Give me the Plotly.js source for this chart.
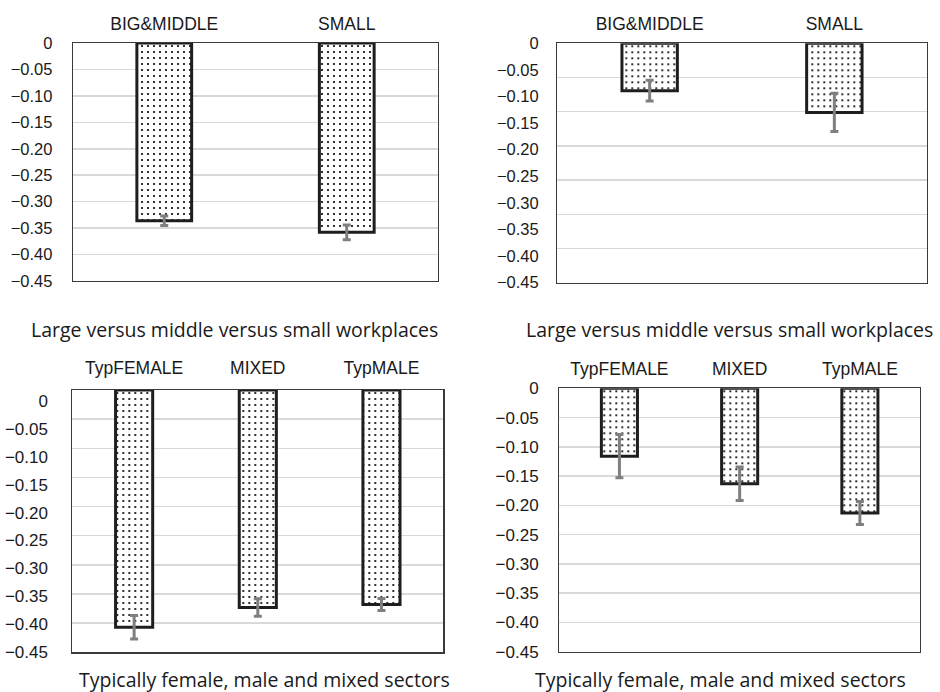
<!DOCTYPE html>
<html>
<head>
<meta charset="utf-8">
<script src="https://cdn.plot.ly/plotly-3.0.1.min.js"></script>
<style>html,body{margin:0;padding:0;background:#fff;}#chart{width:940px;height:692px;}</style>
</head>
<body>
<div id="chart"></div>
<script>
// ---- data ----
const sizeCategories = ['BIG&MIDDLE', 'SMALL'];
const sectorCategories = ['TypFEMALE', 'MIXED', 'TypMALE'];

const sizeValuesA = [-0.336, -0.358];
const sizeErrorsA = [0.009, 0.014];
const sizeValuesB = [-0.089, -0.130];
const sizeErrorsB = [0.0195, 0.036];

const sectorValuesA = [-0.407, -0.373, -0.368];
const sectorErrorsA = [0.020, 0.015, 0.0105];
const sectorValuesB = [-0.116, -0.163, -0.213];
const sectorErrorsB = [0.037, 0.0285, 0.0195];

const tickValues = [0, -0.05, -0.10, -0.15, -0.20, -0.25, -0.30, -0.35, -0.40, -0.45];
const tickLabels = ['0', '\u22120.05', '\u22120.10', '\u22120.15', '\u22120.20', '\u22120.25', '\u22120.30', '\u22120.35', '\u22120.40', '\u22120.45'];
const gridValuesShort = [0, -0.05, -0.10, -0.15, -0.20, -0.25, -0.30, -0.35];

const titleTop = 'Large versus middle versus small workplaces';
const titleBottom = 'Typically female, male and mixed sectors';

// ---- styling ----
const W = 940, H = 692;
const frameColor = '#3a3a3a';
const gridColor = '#d9d9d9';
const tickFont = {family: 'Liberation Sans, Arial, sans-serif', size: 16.5, color: '#1a1a1a'};
const catFont = {family: 'Liberation Sans, Arial, sans-serif', size: 17.5, color: '#1a1a1a'};
const titleFont = {family: 'Open Sans, Noto Sans, sans-serif', size: 19.5, color: '#1a1a1a'};

function px(a, b) { return [a / W, b / W]; }
function py(top, bottom) { return [(H - bottom) / H, (H - top) / H]; }

function barTrace(cats, vals, errs, xa, ya) {
  return {
    type: 'bar', x: cats, y: vals, xaxis: xa, yaxis: ya,
    marker: {
      color: '#ffffff',
      line: {color: '#1e1e1e', width: 3},
      pattern: {shape: '.', fgcolor: '#000000', bgcolor: '#ffffff', size: 6, solidity: 0.1}
    },
    error_y: {type: 'data', array: errs, visible: true, color: '#7f7f7f', thickness: 3, width: 4},
    hoverinfo: 'skip', showlegend: false
  };
}
// invisible helper so that an overlaid axis gets drawn
function helperTrace(cats, vals, xa, ya) {
  return {type: 'scatter', mode: 'markers', x: cats, y: vals, xaxis: xa, yaxis: ya,
    marker: {opacity: 0, size: 1}, hoverinfo: 'skip', showlegend: false};
}

const data = [
  barTrace(sizeCategories, sizeValuesA, sizeErrorsA, 'x', 'y'),
  barTrace(sizeCategories, sizeValuesB, sizeErrorsB, 'x2', 'y2'),
  helperTrace(sizeCategories, sizeValuesB, 'x2', 'y5'),
  barTrace(sectorCategories, sectorValuesA, sectorErrorsA, 'x3', 'y3'),
  helperTrace(sectorCategories, sectorValuesA, 'x3', 'y6'),
  barTrace(sectorCategories, sectorValuesB, sectorErrorsB, 'x4', 'y4')
];

function xAxis(domain, anchor, standoff) {
  return {
    domain: domain, anchor: anchor, side: 'top', type: 'category',
    showgrid: false, zeroline: false, showline: true, mirror: true,
    linecolor: frameColor, linewidth: 1.3,
    ticks: 'outside', ticklen: standoff, tickcolor: 'rgba(0,0,0,0)',
    tickfont: catFont, fixedrange: true
  };
}
function yAxis(domain, anchor, opts) {
  return Object.assign({
    domain: domain, anchor: anchor, range: [-0.45, 0], autorange: false,
    tickmode: 'array', tickvals: tickValues, ticktext: tickLabels,
    showgrid: true, gridcolor: gridColor, gridwidth: 1.5, zeroline: false,
    showline: true, mirror: true, linecolor: frameColor, linewidth: 1.3,
    ticks: 'outside', ticklen: 16, tickcolor: 'rgba(0,0,0,0)',
    tickfont: tickFont, fixedrange: true
  }, opts || {});
}

const layout = {
  width: W, height: H,
  margin: {l: 0, r: 0, t: 0, b: 0},
  paper_bgcolor: '#ffffff', plot_bgcolor: '#ffffff',
  bargap: 0.70,
  showlegend: false,
  xaxis: xAxis(px(73, 438), 'y', 5),
  yaxis: yAxis(py(43, 281), 'x', {ticklen: 16}),
  xaxis2: xAxis(px(557.3, 926.7), 'y2', 5),
  yaxis2: yAxis(py(43.3, 282.7), 'x2', {showgrid: false, ticklen: 14}),
  yaxis5: {
    overlaying: 'y2', anchor: 'x2', side: 'left', range: [-0.35, 0], autorange: false,
    tickmode: 'array', tickvals: gridValuesShort, showticklabels: false,
    showgrid: true, gridcolor: gridColor, gridwidth: 1.5, zeroline: false,
    showline: false, ticks: '', fixedrange: true
  },
  xaxis3: xAxis(px(72.3, 443.3), 'y3', 8),
  yaxis3: yAxis(py(390, 652.3), 'x3', {showticklabels: false, ticks: ''}),
  yaxis6: {
    overlaying: 'y3', anchor: 'x3', side: 'left', range: [-0.4502, 0.0196], autorange: false,
    tickmode: 'array', tickvals: tickValues, ticktext: tickLabels,
    showgrid: false, zeroline: false, showline: false,
    ticks: 'outside', ticklen: 20, tickcolor: 'rgba(0,0,0,0)',
    tickfont: Object.assign({}, tickFont, {size: 17}), fixedrange: true
  },
  xaxis4: xAxis(px(559.3, 920), 'y4', 5),
  yaxis4: yAxis(py(388.3, 651.7), 'x4', {ticklen: 16, tickfont: Object.assign({}, tickFont, {size: 17})}),
  annotations: [
    {text: titleTop, xref: 'paper', yref: 'paper', x: 234 / W, y: (H - 329) / H, xanchor: 'center', yanchor: 'middle', showarrow: false, font: titleFont},
    {text: titleTop, xref: 'paper', yref: 'paper', x: 729.7 / W, y: (H - 329) / H, xanchor: 'center', yanchor: 'middle', showarrow: false, font: titleFont},
    {text: titleBottom, xref: 'paper', yref: 'paper', x: 264 / W, y: (H - 679) / H, xanchor: 'center', yanchor: 'middle', showarrow: false, font: titleFont},
    {text: titleBottom, xref: 'paper', yref: 'paper', x: 720 / W, y: (H - 679) / H, xanchor: 'center', yanchor: 'middle', showarrow: false, font: titleFont}
  ]
};

Plotly.newPlot('chart', data, layout, {displayModeBar: false, staticPlot: true});
</script>
</body>
</html>
